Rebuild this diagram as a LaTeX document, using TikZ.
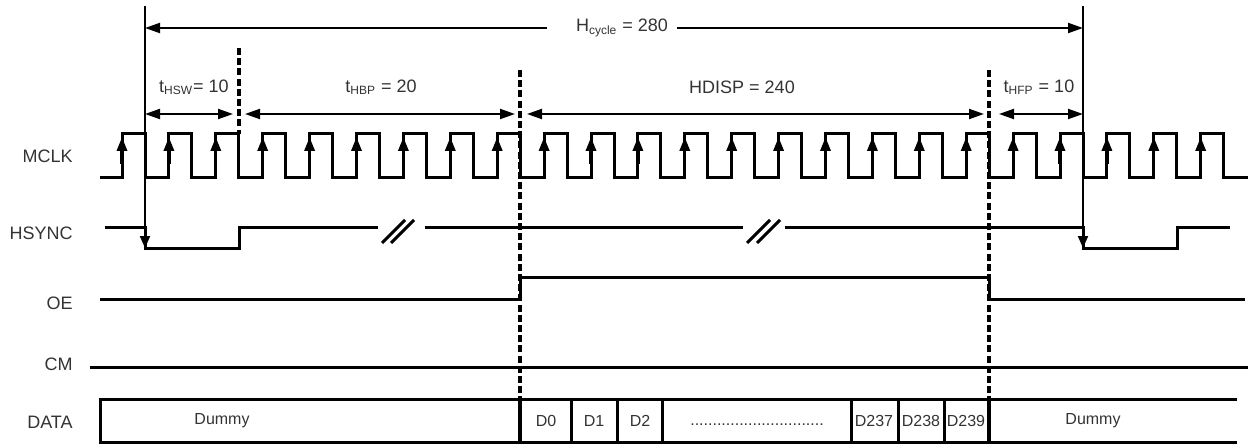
\documentclass[tikz,border=0pt]{standalone}
\usepackage{fontspec}
\setmainfont{Liberation Sans}
\usetikzlibrary{arrows.meta,positioning}

\begin{document}
\begin{tikzpicture}[x=0.5pt, y=-0.5pt, >={Triangle[length=7.5pt,width=5pt]}, every node/.style={font=\fontsize{9}{10}\selectfont, text=black!80, inner sep=0pt}, sig/.style={line width=1.5pt}, dim/.style={line width=1pt}, syncarr/.style={line width=1pt,-{Triangle[length=6pt,width=5pt]}}, clk/.style={line width=1.6pt,-{Triangle[length=7pt,width=5pt]}}, cut/.style={line width=1.6pt, dash pattern=on 3.5pt off 1.6pt}, dat/.style={font=\fontsize{8}{9}\selectfont}]
\useasboundingbox (0,0) rectangle (1248,444);
\node[anchor=east] (mclk) at (73,156) {MCLK};
\node[anchor=east] (hsync) at (73,233) {HSYNC};
\node[anchor=east] (oe) at (73,303) {OE};
\node[anchor=east] (cm) at (73,364) {CM};
\node[anchor=east] (data) at (73,422) {DATA};
\node (hcyc) at (622,28) {H\textsubscript{cycle} = 280};
\node (thsw) at (194,87) {t\textsubscript{HSW}= 10};
\node (thbp) at (381,87) {t\textsubscript{HBP} = 20};
\node (hdisp) at (742,87) {HDISP = 240};
\node (thfp) at (1039,87) {t\textsubscript{HFP} = 10};
\draw[cut] (239,48) -- (239,134);
\draw[cut] (520,70) -- (520,399);
\draw[cut] (989,70) -- (989,399);
\draw[dim,<-] (145,28) -- (547,28);
\draw[dim,->] (677,28) -- (1083,28);
\draw[dim,<->] (145,114) -- (233,114);
\draw[dim,<->] (245,114) -- (515,114);
\draw[dim,<->] (527,114) -- (984,114);
\draw[dim,<->] (999,114) -- (1083,114);
\draw[syncarr] (145,6) -- (145,248);
\draw[syncarr] (1083,6) -- (1083,248);
\draw[sig] (100,178) \foreach \k in {0,...,23} { -- ({122+46.9*\k},178) -- ++(0,-44) -- ++(23,0) -- ++(0,44) } -- (1248,178);
\foreach \k in {0,...,23} \draw[clk] ({122+46.9*\k},164) -- ({122+46.9*\k},137);
\draw[sig] (105,227) -- (145,227) -- (145,248) -- (239,248) -- (239,227) -- (378,227);
\draw[sig] (425,227) -- (743,227);
\draw[sig] (785,227) -- (1083,227) -- (1083,248) -- (1177,248) -- (1177,227) -- (1230,227);
\draw[sig] (382,243) -- (405,220) (391,243) -- (414,220);
\draw[sig] (747,243) -- (770,220) (757,243) -- (780,220);
\draw[sig] (100,299) -- (520,299) -- (520,277) -- (989,277) -- (989,299) -- (1245,299);
\draw[sig] (90,367) -- (1248,367);
\draw[sig] (1237,399) -- (100,399) -- (100,442) -- (1237,442);
\foreach \x in {571,617,662,851,898,944} \draw[sig] (\x,399) -- (\x,442);
\draw[line width=2pt] (520,399) -- (520,442) (989,399) -- (989,442);
\node[dat] (dum1) at (222,421) {Dummy};
\node[dat] (d0) at (546,421) {D0};
\node[dat] (d1) at (594,421) {D1};
\node[dat] (d2) at (640,421) {D2};
\node[dat,anchor=base] (dots) at (757,425) {..............................};
\node[dat] (d237) at (874,421) {D237};
\node[dat] (d238) at (921,421) {D238};
\node[dat] (d239) at (966,421) {D239};
\node[dat] (dum2) at (1093,421) {Dummy};
\end{tikzpicture}
\end{document}
